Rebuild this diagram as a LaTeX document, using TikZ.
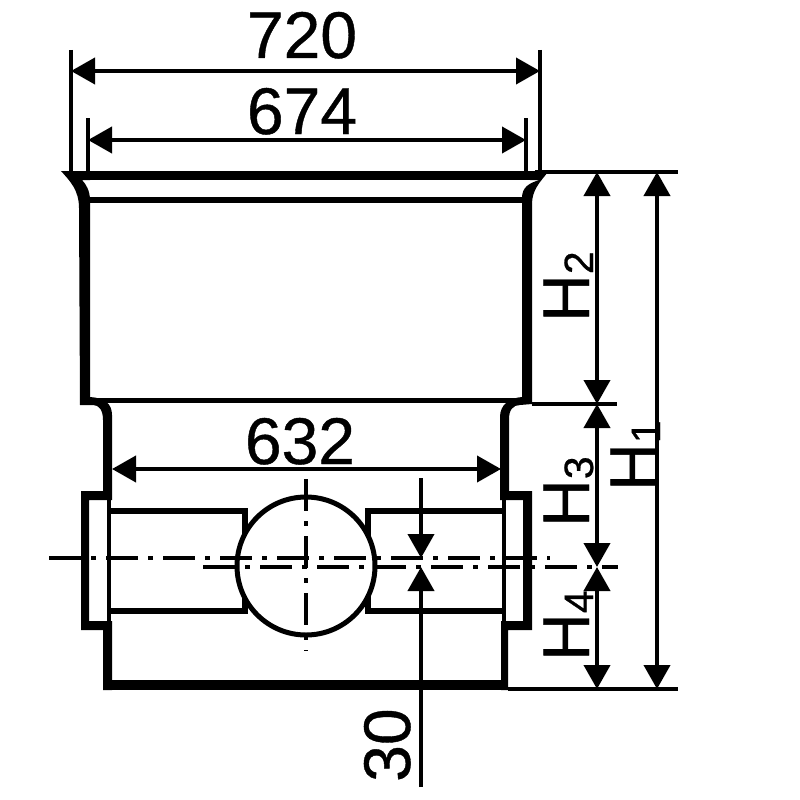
\documentclass[tikz,border=0pt]{standalone}
\usepackage{fontspec}
\setmainfont[RawFeature={embolden=0.6}]{Liberation Sans}
\usetikzlibrary{arrows.meta}
\newcommand{\subH}[1]{H\raisebox{-4pt}{\fontsize{41}{41}\selectfont #1}}

\begin{document}
\begin{tikzpicture}[
    x=1pt, y=-1pt,
    wall/.style={fill=black},
    rib/.style={draw=black, line width=5.6pt},
    thinrib/.style={draw=black, line width=4.4pt},
    centre/.style={draw=black, line width=3.8pt, dash pattern=on 32pt off 10pt on 5pt off 10pt},
    extline/.style={draw=black, line width=3.6pt},
    dimline/.style={draw=black, line width=4pt},
    dimtext/.style={font=\fontsize{66}{66}\selectfont, inner sep=0pt, anchor=base},
    sidetext/.style={font=\fontsize{66}{66}\selectfont, inner sep=0pt, rotate=90, anchor=base west},
    >={Triangle[length=24pt,width=26pt]}
]
\useasboundingbox (0,0) rectangle (800,800);

\fill[wall] (61,171) .. controls (70,181) and (79,190) .. (79,208) -- (80,405) -- (93,405)
    .. controls (99,405) and (103,410) .. (103,420) -- (103,491) -- (81,491) -- (81,630)
    -- (103,630) -- (103,690) -- (112,690) -- (112,621) -- (89,621) -- (89,500) -- (112,500)
    -- (112,415) .. controls (112,404) and (105,398) .. (90,397) -- (90,200)
    .. controls (90,191) and (86,184) .. (82,180) -- (90,180) -- (90,171) -- cycle;
\fill[wall] (548,172) .. controls (540,182) and (532,190) .. (532,204) -- (532,404) -- (520,405)
    .. controls (513,405) and (509,410) .. (509,419) -- (509,491) -- (532,491) -- (532,630)
    -- (508,630) -- (508,690) -- (501,690) -- (501,621) -- (523,621) -- (523,500) -- (500,500)
    -- (500,417) .. controls (500,405) and (509,398) .. (522,397) -- (522,198)
    .. controls (522,188) and (528,183) .. (540,180) -- (530,180) -- (530,171) -- cycle;
\fill[wall] (85,171) rectangle (535,180);
\fill[wall] (103,680) rectangle (508,690);
\draw[rib] (85,200) -- (527,200);
\draw[rib] (95,400.5) -- (525,400.5);
\draw[thinrib] (109,498) -- (109,623);
\draw[thinrib] (504,498) -- (504,623);

\draw[rib] (109,511) -- (245,511) -- (245,611) -- (109,611);
\draw[rib] (505,511) -- (368,511) -- (368,611) -- (505,611);
\draw[thinrib, line width=5pt, fill=white] (306,566) circle (69);

\draw[centre] (49,558) -- (550,558);
\draw[centre] (203,567) -- (618,567);
\draw[centre] (306,479) -- (306,651);

\coordinate (w720a) at (71,71);
\coordinate (w720b) at (540,71);
\coordinate (w674a) at (88,140);
\coordinate (w674b) at (526,140);
\coordinate (w632a) at (112,469);
\coordinate (w632b) at (501,469);
\coordinate (h2top) at (597,172);
\coordinate (h2bot) at (597,404);
\coordinate (h3bot) at (597,567);
\coordinate (h4bot) at (597,689);
\coordinate (h1top) at (657,172);
\coordinate (h1bot) at (657,689);
\coordinate (s30top) at (421,478);
\coordinate (s30a) at (421,558);
\coordinate (s30b) at (421,567);
\coordinate (s30end) at (421,787);

\draw[extline] (71,50) -- (71,171);
\draw[extline] (540,50) -- (540,171);
\draw[extline] (88,118) -- (88,171);
\draw[extline] (526,118) -- (526,171);
\draw[extline] (535,172) -- (678,172);
\draw[extline] (532,404) -- (617,404);
\draw[extline] (508,689) -- (678,689);

\draw[dimline,<->] (w720a) -- (w720b);
\draw[dimline,<->] (w674a) -- (w674b);
\draw[dimline,<->] (w632a) -- (w632b);
\draw[dimline,<->] (h2top) -- (h2bot);
\draw[dimline,<->] (h2bot) -- (h3bot);
\draw[dimline,<->] (h3bot) -- (h4bot);
\draw[dimline,<->] (h1top) -- (h1bot);
\draw[dimline,->] (s30top) -- (s30a);
\draw[dimline,->] (s30end) -- (s30b);

\node[dimtext] (t720) at (302,58) {720};
\node[dimtext] (t674) at (302,134) {674};
\node[dimtext] (t632) at (300,464) {632};
\node[sidetext] (t30) at (410,782) {30};
\node[sidetext] (th2) at (589,322) {\subH{2}};
\node[sidetext] (th3) at (589,527) {\subH{3}};
\node[sidetext] (th4) at (589,661) {\subH{4}};
\node[sidetext] (th1) at (656,491) {\subH{1}};
\end{tikzpicture}
\end{document}
